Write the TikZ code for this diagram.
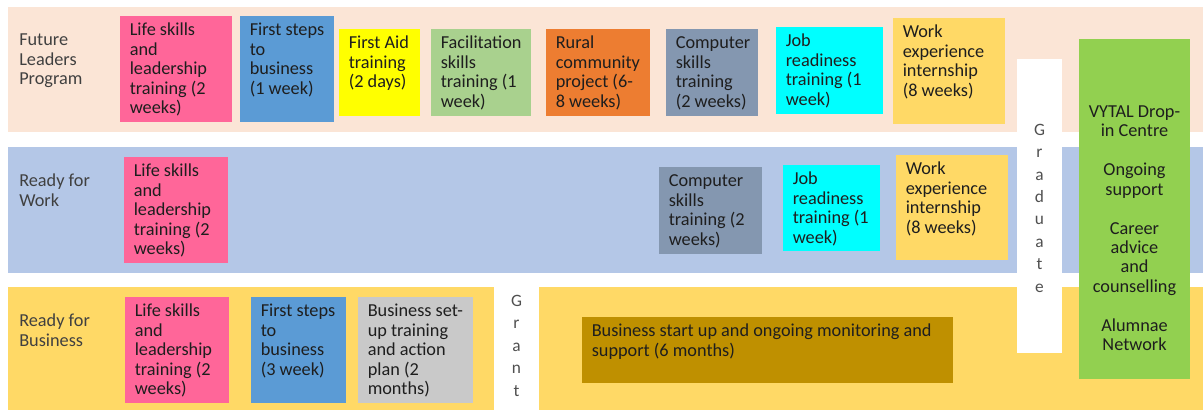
\documentclass[tikz,border=0pt]{standalone}
\usepackage{fontspec}
\setmainfont{Carlito}

% palette
\definecolor{peach}{HTML}{FBE5D6}
\definecolor{paleblue}{HTML}{B4C7E7}
\definecolor{gold}{HTML}{FFD966}
\definecolor{rose}{HTML}{FF6699}
\definecolor{steel}{HTML}{5B9BD5}
\definecolor{lemon}{HTML}{FFFF00}
\definecolor{sage}{HTML}{A9D18E}
\definecolor{rust}{HTML}{ED7D31}
\definecolor{slate}{HTML}{8497B0}
\definecolor{aqua}{HTML}{00FFFF}
\definecolor{lime}{HTML}{92D050}
\definecolor{silver}{HTML}{C9C9C9}
\definecolor{ochre}{HTML}{BF9000}
\definecolor{txt}{HTML}{1E1E1E}
\definecolor{lbl}{HTML}{404040}
\definecolor{vert}{HTML}{505050}

\newcommand\tilefont{\fontsize{13.7}{14.6}\selectfont}
\newcommand\topstrut{\rule{0pt}{11pt}}

\tikzset{
  slabstyle/.style={rectangle, draw=none, inner sep=0pt, outer sep=0pt, anchor=north west},
  tiletext/.style={anchor=north west, inner sep=0pt, align=left, font=\tilefont, text=txt},
  rowlabel/.style={anchor=north west, inner sep=0pt, align=left, font=\tilefont, text=lbl},
  vertword/.style={anchor=north, inner sep=0pt, align=center, text=vert},
  sidetext/.style={anchor=north, inner sep=0pt, align=center, font=\tilefont, text=txt},
}

% filled rectangle node from (x1,y1) to (x2,y2), image pixel units
\newcommand\slab[6]{%
  \node[slabstyle, fill=#6,
        minimum width={(#4-#2)*0.75pt}, minimum height={(#5-#3)*0.75pt}]
        (#1) at (#2,#3) {};}
% coloured course box with its text set at the top left
\newcommand\course[7]{%
  \slab{#1}{#2}{#3}{#4}{#5}{#6}%
  \node[tiletext] (#1-text) at ([shift={(9.5,5)}]#1.north west) {\topstrut #7};}

\begin{document}
\begin{tikzpicture}[x=0.75pt, y=-0.75pt]
  \useasboundingbox[fill=white] (0,0) rectangle (1203,410);

  % programme bands
  \slab{bandFL}{8}{7}{1203}{132}{peach}
  \slab{bandRW}{8}{147}{1203}{273}{paleblue}
  \slab{bandRB}{8}{287}{1203}{410}{gold}

  % gaps marking the grant and graduation points
  \slab{gradcol}{1017}{59}{1062}{353}{white}
  \slab{grantcol}{494}{287}{539}{410}{white}

  % row titles
  \node[rowlabel] (lblFL) at (19,31) {\topstrut Future\\Leaders\\Program};
  \node[rowlabel] (lblRW) at (19,172) {\topstrut Ready for\\Work};
  \node[rowlabel] (lblRB) at (19,312) {\topstrut Ready for\\Business};

  % Future Leaders Program
  \course{fl1}{120}{16}{232}{122}{rose}{Life skills\\and\\leadership\\training (2\\weeks)}
  \course{fl2}{240}{16}{334}{122}{steel}{First steps\\to\\business\\(1 week)}
  \course{fl3}{339}{29}{420}{116}{lemon}{First Aid\\training\\(2 days)}
  \course{fl4}{431}{29}{531}{116}{sage}{Facilitation\\skills\\training (1\\week)}
  \course{fl5}{546}{29}{650}{116}{rust}{Rural\\community\\project (6-\\8 weeks)}
  \course{fl6}{666}{29}{758}{116}{slate}{Computer\\skills\\training\\(2 weeks)}
  \course{fl7}{776}{27}{883}{114}{aqua}{Job\\readiness\\training (1\\week)}
  \course{fl8}{893}{18}{1005}{124}{gold}{Work\\experience\\internship\\(8 weeks)}

  % Ready for Work
  \course{rw1}{124}{157}{228}{263}{rose}{Life skills\\and\\leadership\\training (2\\weeks)}
  \course{rw2}{659}{167}{762}{254}{slate}{Computer\\skills\\training (2\\weeks)}
  \course{rw3}{783}{165}{880}{251}{aqua}{Job\\readiness\\training (1\\week)}
  \course{rw4}{896}{155}{1008}{260}{gold}{Work\\experience\\internship\\(8 weeks)}

  % Ready for Business
  \course{rb1}{125}{297}{229}{403}{rose}{Life skills\\and\\leadership\\training (2\\weeks)}
  \course{rb2}{251}{297}{346}{403}{steel}{First steps\\to\\business\\(3 week)}
  \course{rb3}{358}{297}{473}{403}{silver}{Business set-\\up training\\and action\\plan (2\\months)}
  \course{rb4}{582}{317}{953}{383}{ochre}{Business start up and ongoing monitoring and\\support (6 months)}

  % vertical words in the gaps
  \node[vertword, font=\fontsize{13}{16.8}\selectfont] (gradword) at (gradcol.north |- 0,120.3)
    {\topstrut G\\r\\a\\d\\u\\a\\t\\e};
  \node[vertword, font=\fontsize{13}{16.9}\selectfont] (grantword) at (grantcol.north |- 0,291.3)
    {\topstrut G\\r\\a\\n\\t};

  % alumnae support column
  \slab{vytal}{1079}{39}{1190}{379}{lime}
  \node[sidetext] (vytal-text) at (vytal.north |- 0,102.3)
    {\topstrut VYTAL Drop-\\in Centre\\[14.6pt]Ongoing\\support\\[14.6pt]Career\\advice\\and\\counselling\\[14.6pt]Alumnae\\Network};
\end{tikzpicture}
\end{document}
